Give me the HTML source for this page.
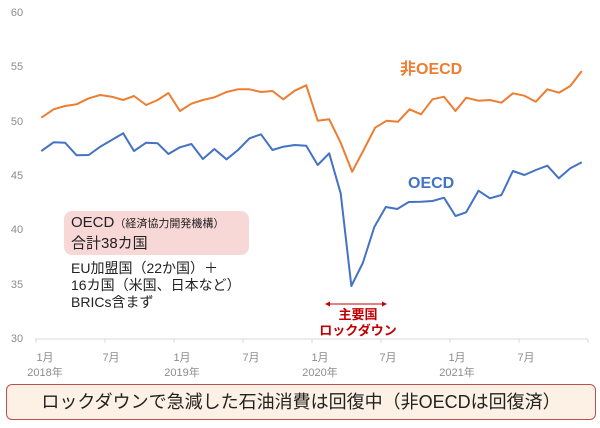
<!DOCTYPE html>
<html><head><meta charset="utf-8"><style>
body{margin:0;background:#fff;width:600px;height:423px;overflow:hidden;font-family:"Liberation Sans","Noto Sans CJK JP",sans-serif}
</style></head><body>
<svg width="600" height="423" viewBox="0 0 600 423" xmlns="http://www.w3.org/2000/svg" font-family="Liberation Sans, Noto Sans CJK JP, sans-serif">
<g fill="#8c8c8c" font-size="11" text-anchor="middle">
<text x="17" y="16">60</text><text x="17" y="70">55</text><text x="17" y="125">50</text>
<text x="17" y="179">45</text><text x="17" y="233">40</text><text x="17" y="288">35</text><text x="17" y="342">30</text>
<text x="45" y="361">1月</text><text x="45" y="376">2018年</text>
<text x="111" y="361">7月</text>
<text x="182" y="361">1月</text><text x="182" y="376">2019年</text>
<text x="251" y="361">7月</text>
<text x="320" y="361">1月</text><text x="320" y="376">2020年</text>
<text x="388" y="361">7月</text>
<text x="457" y="361">1月</text><text x="457" y="376">2021年</text>
<text x="526" y="361">7月</text>
</g>
<line x1="35" y1="339" x2="588" y2="339" stroke="#d9d9d9"/>
<g stroke="#d9d9d9"><line x1="36" y1="339" x2="36" y2="343"/><line x1="105" y1="339" x2="105" y2="343"/><line x1="174" y1="339" x2="174" y2="343"/><line x1="243" y1="339" x2="243" y2="343"/><line x1="312" y1="339" x2="312" y2="343"/><line x1="381" y1="339" x2="381" y2="343"/><line x1="450" y1="339" x2="450" y2="343"/><line x1="519" y1="339" x2="519" y2="343"/><line x1="588" y1="339" x2="588" y2="343"/></g>
<g transform="scale(1.1482,1)">
<polyline fill="none" stroke="#ed7d31" stroke-width="2" vector-effect="non-scaling-stroke" stroke-linejoin="round" points="36,117.7 46.7,109.3 56.7,106 66.7,104.3 77.3,98.3 87.3,95 97.3,96.7 107.3,100 116.7,96 127.3,105 137.3,100 146.7,93 156.7,111 166.7,103.7 176.7,100 186.7,97.3 197.3,92 207.3,89.3 217.3,89.3 227.3,92 237.3,91 246.7,99.3 256.7,90.7 266.7,85.3 276.7,120.7 286.7,119.3 296.7,142.7 306.7,171.7 316.7,150 326.7,127.7 336.7,120.7 346.7,121.7 356.7,109.3 366.7,114.3 376.7,99.3 386.7,96.7 396.7,111 406,97.7 416.7,100.7 426.7,100 436.7,102.7 446.7,93.3 456.7,95.7 466.7,101.7 476.7,89.3 486.7,92.7 496.7,86 506.7,71"/>
<polyline fill="none" stroke="#4472c4" stroke-width="2" vector-effect="non-scaling-stroke" stroke-linejoin="round" points="36,151 46.7,142.3 56.7,142.7 66.7,155.3 77.3,155 87.3,146.7 97.3,140 107.3,133.3 116.7,151 127.3,142.7 137.3,143.3 146.7,154 156.7,147.3 166.7,144 176.7,159 186.7,149 197.3,159.3 207.3,150 217.3,138.3 227.3,134.3 237.3,150 246.7,146.7 256.7,145 266.7,145.7 276.7,165 286.7,153.3 296.7,193.3 306,286 316,263 326,227 336,207 346,209 356,202 366.7,201.7 376.7,201 386.7,197.7 396.7,216 406,212.3 416.7,190.7 426.7,198.3 436.7,195 446.7,171 456.7,175 466.7,170 476.7,165.7 486.7,178.3 496.7,168.3 506.7,162.3"/>
</g>
</svg>
<div style="position:absolute;left:0;top:0;width:600px;height:423px">
<div style="position:absolute;left:400px;top:55px;color:#ed7d31;font-weight:bold;font-size:16px">非OECD</div>
<div style="position:absolute;left:408px;top:175px;color:#4472c4;font-weight:bold;font-size:16px">OECD</div>
<div style="position:absolute;left:64px;top:211px;width:185px;height:44px;background:#f8d7d7;border-radius:8px"></div>
<div style="position:absolute;left:71px;top:213px;font-size:15px;color:#222;line-height:19px;white-space:nowrap">OECD<span style="font-size:11px">（経済協力開発機構）</span><br>合計38カ国</div>
<div style="position:absolute;left:71px;top:260px;font-size:14px;color:#222;line-height:17px;white-space:nowrap">EU加盟国（22か国）＋<br>16カ国（米国、日本など）<br>BRICs含まず</div>
<svg style="position:absolute;left:325px;top:299px" width="62" height="10"><line x1="3" y1="5" x2="59" y2="5" stroke="#c00000" stroke-width="1"/><polygon points="0,5 5,2.5 5,7.5" fill="#c00000"/><polygon points="62,5 57,2.5 57,7.5" fill="#c00000"/></svg>
<div style="position:absolute;left:313px;top:307px;width:90px;text-align:center;color:#c00000;font-weight:bold;font-size:13px;line-height:16px;white-space:nowrap">主要国<br>ロックダウン</div>
<div style="position:absolute;left:6px;top:384px;width:588px;height:34px;background:#fdf1e6;border:1.5px solid #c0504d;border-radius:6px;text-align:center;font-size:18px;line-height:34px;color:#222">ロックダウンで急減した石油消費は回復中（非OECDは回復済）</div>
</div>
</body></html>
